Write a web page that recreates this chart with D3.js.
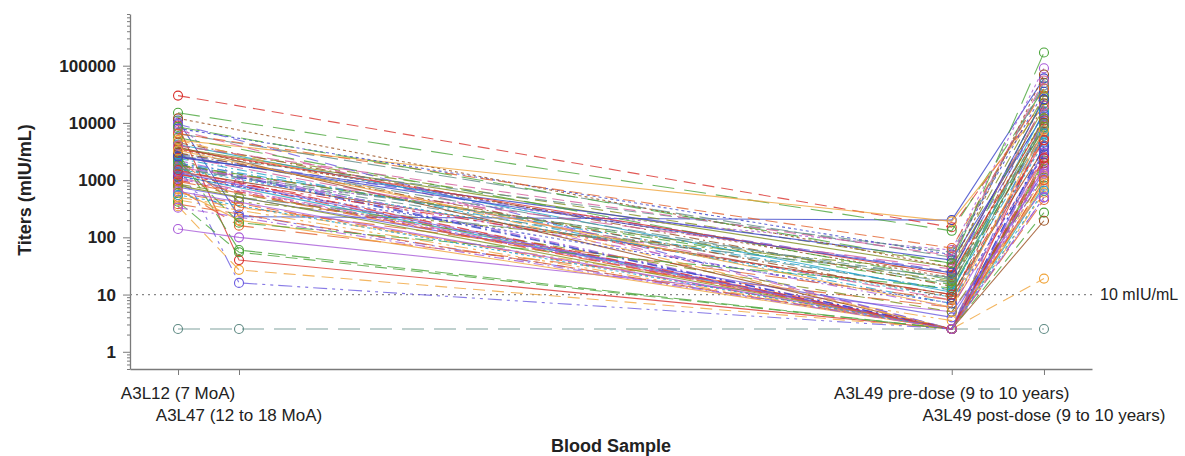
<!DOCTYPE html>
<html><head><meta charset="utf-8">
<script src="https://cdn.jsdelivr.net/npm/d3@7/dist/d3.min.js"></script>
<style>body{margin:0;background:#fff;} svg{display:block;font-family:"Liberation Sans",Arial,sans-serif;}</style>
</head><body><svg id="chart" width="1185" height="456"></svg>
<script>
// ---- data ----
const visits = ["A3L12 (7 MoA)", "A3L47 (12 to 18 MoA)", "A3L49 pre-dose (9 to 10 years)", "A3L49 post-dose (9 to 10 years)"];
const visitMonth = [7, 15, 108.5, 120.6];
const titerA3L12 = [11000,30000,15000,2200,5000,1600,3400,900,2600,1200,4000,700,2000,9000,1850,10000,450,6500,1400,2800,1100,2400,3600,600,8000,1300,3000,140,350,1700,4500,750,7500,1550,3200,380,2500,1000,5500,1750,680,2900,12000,2100,1450,4200,850,2300,1900,3500,420,1050,500,2700,3800,9500,1650,2000,800,6500,1150,1250,2200,640,5000,2.5,3000,1350,4000,550,1800,950,2600,1500,8500,330,3300,1600];
const titerA3L47 = [230,null,null,null,null,null,null,250,null,null,null,160,null,40,null,900,null,null,null,null,null,null,null,null,null,null,60,100,27,500,null,null,null,null,420,null,null,null,null,null,200,null,null,16,null,null,null,340,null,null,55,null,null,null,null,null,null,null,null,null,null,null,180,null,null,2.5,null,null,null,null,null,null,null,null,null,null,null,null];
const titerPre = [200,150,130,2.5,190,12,20,2.5,8,2.5,35,6,2.5,2.5,15,60,2.5,45,10,25,2.5,7,30,2.5,50,2.5,2.5,5,2.5,20,14,4,2.5,9,25,2.5,40,2.5,18,6,2.5,55,30,2.5,2.5,11,5,8,2.5,22,2.5,2.5,3.5,16,2.5,2.5,28,12,2.5,65,7,10,13,2.5,2.5,2.5,9,2.5,48,2.5,17,2.5,24,2.5,35,2.5,6,19];
const titerPost = [60000,25000,40000,3000,20000,9000,12000,1500,5000,800,30000,2500,4000,7000,10000,90000,600,50000,3500,15000,2500,6000,18000,1000,35000,1800,2000,700,1200,8000,22000,1400,9000,4500,25000,450,14000,2000,28000,3000,900,45000,70000,500,1600,16000,1100,5500,3800,11000,270,1300,750,7000,195,13000,20000,6500,2200,40000,2800,5000,8500,1700,19,2.5,10000,3300,55000,650,12000,1000,26000,2400,170000,500,7500,9500];
const yTickValues = [1, 10, 100, 1000, 10000, 100000];
const refValue = 10;
const refLabel = "10 mIU/mL";
const xTitle = "Blood Sample";
const yTitle = "Titers (mIU/mL)";

// ---- styles ----
const palette = ["#3a44c8","#d9302c","#4aa53a","#a85ad8","#f0a43a","#5f8a84","#9a4e1e","#6a5ae0","#d35b9a","#1ea0c8","#7f8e1f","#e2622c"];
const dashes = ["none","12,7","22,10","10,4,2,4","none","12,6","3,3","14,5,3,5,3,5","18,6"];

const svg = d3.select("#chart");
const x = d3.scaleLinear().domain([0.7, 126.9]).range([130, 1092]);
const y = d3.scaleLog().domain([0.5, 8e5]).range([369, 14]);
const axisColor = "#7a7a7a";

// minor ticks
const minor = [];
for (let e = -1; e <= 5; e++) for (let k = 2; k <= 9; k++) { const v = k * Math.pow(10, e); if (v >= 0.5 && v <= 8e5) minor.push(v); }
const gMinor = svg.append("g").attr("transform","translate(130,0)")
  .call(d3.axisLeft(y).tickValues(minor).tickSize(3).tickFormat(""));
gMinor.select(".domain").remove();
gMinor.selectAll("line").attr("stroke", axisColor);

const gy = svg.append("g").attr("transform","translate(130,0)")
  .call(d3.axisLeft(y).tickValues(yTickValues).tickSize(7).tickSizeOuter(0).tickFormat(d3.format("d")));
gy.select(".domain").attr("stroke", axisColor).attr("stroke-width",1.3);
gy.selectAll("line").attr("stroke", axisColor);
gy.selectAll("text").attr("font-size",17).attr("font-weight","bold").attr("fill","#222").attr("x",-14)
  .attr("font-family",'"Liberation Sans",Arial,sans-serif');

const gx = svg.append("g").attr("transform","translate(0,369)")
  .call(d3.axisBottom(x).tickValues(visitMonth).tickSize(6).tickSizeOuter(0).tickFormat(""));
gx.select(".domain").attr("stroke", axisColor).attr("stroke-width",1.3);
gx.selectAll("line").attr("stroke", axisColor);

svg.append("g").selectAll("text").data(visits).join("text")
  .attr("x",(d,i)=>x(visitMonth[i])).attr("y",(d,i)=>i%2===0?399:421)
  .attr("text-anchor","middle").attr("font-size",17).attr("fill","#222").text(d=>d);

svg.append("text").attr("x",611).attr("y",452).attr("text-anchor","middle")
  .attr("font-size",18).attr("font-weight","bold").attr("fill","#222").text(xTitle);
svg.append("text").attr("transform","translate(31,190) rotate(-90)").attr("text-anchor","middle")
  .attr("font-size",18).attr("font-weight","bold").attr("fill","#222").text(yTitle);

// reference line
svg.append("line").attr("x1",x.range()[0]).attr("x2",1096).attr("y1",y(refValue)).attr("y2",y(refValue))
  .attr("stroke","#888").attr("stroke-width",1.3).attr("stroke-dasharray","2,4");
svg.append("text").attr("x",1100).attr("y",y(refValue)).attr("dy","0.35em")
  .attr("font-size",16).attr("fill","#222").text(refLabel);

// subjects
const series = [titerA3L12, titerA3L47, titerPre, titerPost];
const line = d3.line().x(d=>x(d.x)).y(d=>y(d.y));
const gData = svg.append("g");
titerA3L12.forEach((_, i) => {
  const pts = series.map((s, j) => ({x: visitMonth[j], y: s[i]})).filter(p => p.y != null);
  const col = palette[i % palette.length];
  const g = gData.append("g");
  g.append("path").attr("d", line(pts)).attr("fill","none").attr("stroke",col)
    .attr("stroke-width",1.1).attr("stroke-opacity",0.8)
    .attr("stroke-dasharray", dashes[i % dashes.length]);
  g.selectAll("circle").data(pts).join("circle")
    .attr("cx",d=>x(d.x)).attr("cy",d=>y(d.y)).attr("r",4.5)
    .attr("fill","none").attr("stroke",col).attr("stroke-width",1.1);
});
</script></body></html>
